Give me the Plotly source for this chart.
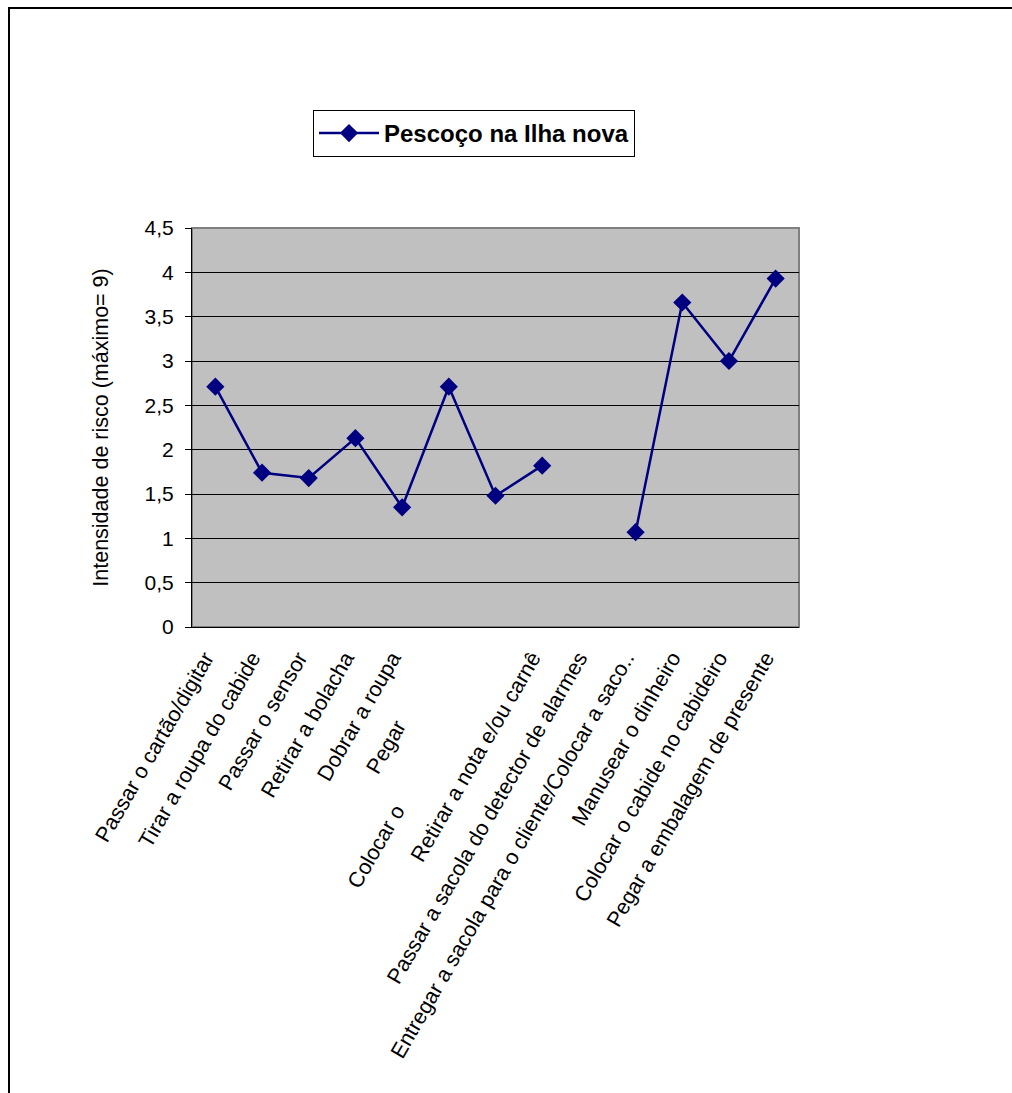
import plotly.graph_objects as go

# Tarefas avaliadas (eixo X) e intensidade de risco para o pescoço
tarefas = [
    "Passar o cartão/digitar",
    "Tirar a roupa do cabide",
    "Passar o sensor",
    "Retirar a bolacha",
    "Dobrar a roupa",
    "",
    "",
    "Retirar a nota e/ou carnê",
    "Passar a sacola do detector de alarmes",
    "Entregar a sacola para o cliente/Colocar a saco..",
    "Manusear o dinheiro",
    "Colocar o cabide no cabideiro",
    "Pegar a embalagem de presente",
]
intensidade = [2.71, 1.74, 1.68, 2.13, 1.35, 2.71, 1.48, 1.82, None, 1.07, 3.66, 3.00, 3.93]
y_ticks = [0, 0.5, 1, 1.5, 2, 2.5, 3, 3.5, 4, 4.5]

W, H = 1012, 1093
L, R, T, B = 192, 799, 228, 627   # plot area in pixels


def px_x(p):
    return (p - L) / (R - L)


def px_y(p):
    return (B - p) / (B - T)


FONT = "Liberation Sans, Arial, sans-serif"
NAVY = "#000080"
FS = 21.5

idx = list(range(len(tarefas)))

fig = go.Figure()
fig.add_trace(go.Scatter(
    x=idx, y=intensidade, mode="lines+markers",
    name="Pescoço na Ilha nova",
    line=dict(color=NAVY, width=2.5),
    marker=dict(symbol="diamond", size=14, color=NAVY),
    connectgaps=False,
))

fig.update_layout(
    width=W, height=H,
    margin=dict(l=L, r=W - R, t=T, b=H - B, pad=0),
    paper_bgcolor="white",
    plot_bgcolor="#C0C0C0",
    separators=",.",
    font=dict(family=FONT, size=FS, color="black"),
    showlegend=True,
    legend=dict(
        x=px_x(313), y=px_y(110), xanchor="left", yanchor="top",
        bgcolor="white", bordercolor="black", borderwidth=1,
        font=dict(family=FONT, size=24, color="black", weight="bold"),
        itemwidth=60,
    ),
    xaxis=dict(
        range=[-0.5, len(tarefas) - 0.5],
        tickmode="array", tickvals=idx, ticktext=tarefas,
        tickangle=-60, showgrid=False, zeroline=False,
        showline=True, linecolor="black", linewidth=1,
        ticks="", ticklabelshift=-10, ticklabelstandoff=9,
        tickfont=dict(family=FONT, size=FS, color="black"),
        fixedrange=True,
    ),
    yaxis=dict(
        range=[0, 4.5], tickmode="array", tickvals=y_ticks,
        showgrid=True, gridcolor="black", gridwidth=1,
        zeroline=False, showline=True, linecolor="black", linewidth=1,
        ticks="outside", ticklen=6, tickcolor="black",
        ticklabelstandoff=7,
        tickfont=dict(family=FONT, size=21, color="black"),
        title=dict(text="Intensidade de risco (máximo= 9)",
                   font=dict(family=FONT, size=21.5, color="black"), standoff=30),
        fixedrange=True,
    ),
)

# grey frame of the plot area
fig.add_shape(type="rect", xref="paper", yref="paper", x0=0, y0=0, x1=1, y1=1,
              line=dict(color="#808080", width=2), layer="below")

# outer frame of the chart
fig.add_shape(type="rect", xref="paper", yref="paper",
              x0=px_x(9), y0=px_y(1100), x1=px_x(1020), y1=px_y(8),
              line=dict(color="black", width=2))

# partially hidden category labels
for txt, (ax, ay) in [("Pegar", (414, 714)), ("Colocar o", (412, 798))]:
    fig.add_annotation(text=txt, xref="paper", yref="paper",
                       x=px_x(ax), y=px_y(ay), xanchor="right", yanchor="top",
                       textangle=-60, showarrow=False,
                       font=dict(family=FONT, size=FS, color="black"))

fig.write_html("out.html")
